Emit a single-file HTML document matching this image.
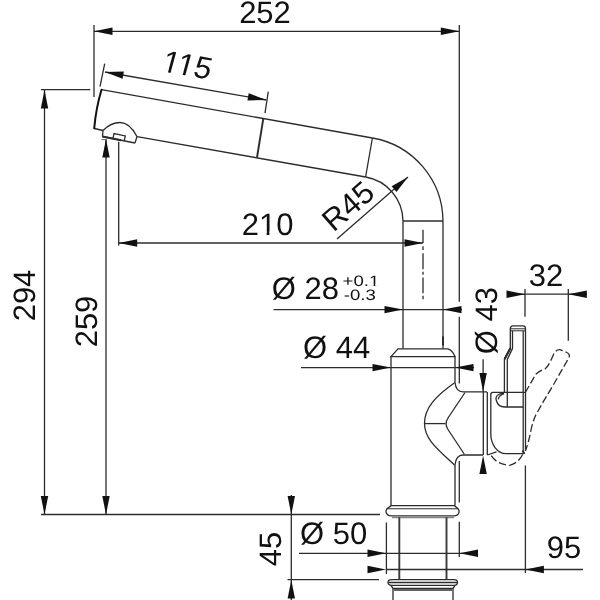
<!DOCTYPE html>
<html><head><meta charset="utf-8">
<style>
html,body{margin:0;padding:0;background:#fff;}
svg{display:block;filter:blur(0.35px)}
text{font-family:"Liberation Sans",sans-serif;fill:#111;text-rendering:geometricPrecision;}
.l{stroke:#2c2c2c;stroke-width:1.3;fill:none;}
.t{stroke:#111;stroke-width:2;fill:none;stroke-linecap:round}
.a{fill:#111;stroke:none}
.d{stroke:#2c2c2c;stroke-width:1.3;fill:none;stroke-dasharray:7.5 3;}
</style></head><body>
<svg width="600" height="600" viewBox="0 0 600 600">
<rect width="600" height="600" fill="#fff"/>

<!-- 252 -->
<g class="l">
<path d="M94 25 V97"/>
<path d="M459.3 25 V301.7 M459.3 316.7 V383.5"/>
<path d="M94 31.3 H459.3"/>
</g>
<path class="a" d="M0 0 L-18.5 -3.7 L-18.5 3.7 Z" transform="translate(94 31.3) rotate(180)"/>
<path class="a" d="M0 0 L-18.5 -3.7 L-18.5 3.7 Z" transform="translate(459.3 31.3)"/>
<text x="265" y="22.5" font-size="31" text-anchor="middle">252</text>

<!-- 115 -->
<g class="l">
<path d="M104.7 63.7 L100 86.7"/>
<path d="M268.3 91.7 L265 113"/>
<path d="M105 72 L266.3 100"/>
</g>
<path class="a" d="M0 0 L-18.5 -3.7 L-18.5 3.7 Z" transform="translate(105 72) rotate(189.85)"/>
<path class="a" d="M0 0 L-18.5 -3.7 L-18.5 3.7 Z" transform="translate(266.3 100) rotate(9.85)"/>
<g transform="translate(184.6 75.3) rotate(10) skewX(-5)"><text x="-24.70" y="0" font-size="31">115</text><rect x="-24.30" y="-3.00" width="7.40" height="3.90" fill="#fff"/><rect x="-14.20" y="-3.00" width="7.35" height="3.90" fill="#fff"/><rect x="-9.37" y="-3.00" width="7.40" height="3.90" fill="#fff"/><rect x="0.73" y="-3.00" width="7.35" height="3.90" fill="#fff"/></g>

<!-- 294 -->
<g class="l">
<path d="M41 89.7 H90.3"/>
<path d="M44.5 90 V514.5"/>
<path d="M41 514.5 H380"/>
<path d="M106 139 V514.5"/>
</g>
<path class="a" d="M0 0 L-18.5 -3.7 L-18.5 3.7 Z" transform="translate(44.5 90) rotate(-90)"/>
<path class="a" d="M0 0 L-18.5 -3.7 L-18.5 3.7 Z" transform="translate(44.5 514.5) rotate(90)"/>
<path class="a" d="M0 0 L-18.5 -3.7 L-18.5 3.7 Z" transform="translate(106 139) rotate(-90)"/>
<path class="a" d="M0 0 L-18.5 -3.7 L-18.5 3.7 Z" transform="translate(106 514.5) rotate(90)"/>
<text font-size="31" text-anchor="middle" transform="translate(35 295.5) rotate(-90)">294</text>
<text font-size="31" text-anchor="middle" transform="translate(96.6 321.5) rotate(-90)">259</text>

<!-- 210 -->
<g class="l">
<path d="M118.7 141.7 V245.5"/>
<path d="M118.7 243 H423"/>
<path d="M423 229.7 V243"/>
<path d="M423 246.3 V250 M423 253.3 V269.2 M423 271.7 V274.7 M423 277.5 V293.3 M423 295.8 V299.2"/>
</g>
<path class="a" d="M0 0 L-18.5 -3.7 L-18.5 3.7 Z" transform="translate(118.7 243) rotate(180)"/>
<path class="a" d="M0 0 L-18.5 -3.7 L-18.5 3.7 Z" transform="translate(423 243)"/>
<g transform="translate(267.5 234.5)"><text x="-25.85" y="0" font-size="31">210</text><rect x="-8.22" y="-3.00" width="7.40" height="3.90" fill="#fff"/><rect x="1.88" y="-3.00" width="7.35" height="3.90" fill="#fff"/></g>

<!-- spout -->
<g class="l">
<path d="M101.5 89.7 L372.4 138"/>
<path d="M94.4 128.5 L103 130.5"/>
<path d="M137 136.7 L365.6 177"/>
<path d="M263.3 118.7 L257 157.5" stroke-width="1.9"/>
<path d="M372.4 138 L365.6 177"/>
<path d="M372.4 138 A85 85 0 0 1 443 221"/>
<path d="M365.6 177 A45 45 0 0 1 403 221"/>
<path d="M403 221 H443"/>
<path d="M403 221 V348.8 M443 221 V348.8"/>
<!-- aerator -->
<path d="M102.5 136.5 L103 130.5 C107 126.5 113 122.5 120 122.5 C127 122.5 133 129 137 136.5 L135 143"/><path d="M102.3 136.5 L135 143"/><path d="M102.3 136.5 L121 140.2" stroke-width="2.1"/><path d="M101.5 139.6 H106.5" stroke-width="1" stroke="#666"/>
<path d="M113 138.6 L114 133.6 L125.3 135.9 L124.2 140.6"/>
</g>
<path class="t" d="M101.5 89.7 Q96 108 94.2 128.3"/>

<!-- R45 -->
<path class="l" d="M408 177 L337 239"/>
<path class="a" d="M0 0 L-18.5 -3.7 L-18.5 3.7 Z" transform="translate(408 177) rotate(-41.1)"/>
<text font-size="31" text-anchor="middle" transform="translate(355 214) rotate(-41.1)">R45</text>

<!-- O28 -->
<g class="l">
<path d="M273.6 309.6 H462"/>
<path d="M443 336.5 V345.5" stroke-width="2"/>
</g>
<path class="a" d="M0 0 L-18.5 -3.7 L-18.5 3.7 Z" transform="translate(403 309.6)"/>
<path class="a" d="M0 0 L-18.5 -3.7 L-18.5 3.7 Z" transform="translate(443 309.6) rotate(180)"/>
<text x="271.8" y="299" font-size="31">Ø 28</text>
<g transform="translate(342.6 285.5) scale(1.24 1)"><text x="0" y="0" font-size="15">+0.1</text><rect x="21.46" y="-1.45" width="3.51" height="1.89" fill="#fff"/><rect x="26.42" y="-1.45" width="3.48" height="1.89" fill="#fff"/></g>
<text transform="translate(343.8 300.4) scale(1.24 1)" font-size="15">-0.3</text>

<!-- O44 -->
<g class="l">
<path d="M301 367.6 H474"/>
</g>
<path class="a" d="M0 0 L-18.5 -3.7 L-18.5 3.7 Z" transform="translate(391 367.6)"/>
<path class="a" d="M0 0 L-18.5 -3.7 L-18.5 3.7 Z" transform="translate(455 367.6) rotate(180)"/>
<text x="303" y="358" font-size="31">Ø 44</text>

<!-- body -->
<g class="l">
<path d="M391 356.6 L398 348.8 H448 Q452.5 350 455 356.6 Z"/>
<path d="M391 356.6 V505.7"/>
<path d="M455 356.6 V382.5"/>
<path d="M455 382.5 Q456 391.9 463 391.9 H487"/>
<path d="M455 382.5 C435.3 396.2 424.5 408 424.5 423.5 C424.5 439 437 448.6 454.5 465"/>
<path d="M465 392.5 L448.3 417.5 Q444 423.7 448.3 430 L464.2 454"/>
<path d="M424.5 423.6 H445.5"/>
<path d="M483 455 H463 Q456 455 455 465 V505.6"/>
<path d="M483.3 392 V455 M487.3 392 V455"/>
<!-- cap -->
<path d="M525 392.3 H492.8 Q490.8 392.3 490.8 394.5 V434 C490.8 444 497 453.6 506 453.6 H523.5"/><path d="M487.3 455 L496.5 451.8"/><path d="M523 451.5 L524 453" stroke-width="2.2" stroke-linecap="round"/>
<!-- lever -->
<path d="M510.3 329 Q510.3 325.9 513 325.9 H523 Q525.5 325.9 525.5 329 V451"/>
<path d="M510.3 328.8 H525.5 M510.3 330.8 H525.5" stroke-width="1"/>
<path d="M510.3 329 V347.5 L504.4 359.5 V393"/>
<path d="M512.5 331 V348.5 L507.3 359.5 V407"/>
<path d="M523.2 331 V452"/>
<path d="M510.2 348.8 L504.9 358.6" stroke-width="2.2" stroke-linecap="round"/>
<path d="M504 393.4 C497.5 393.4 495.3 396.5 496.2 400 C497.2 404 500.5 407 504.7 407 H523.2"/><path d="M504 393.6 Q499 395.2 498.2 399.3"/>
<!-- base ring -->
<path d="M391 505.7 H454.5 L458.3 509 Q459.8 511.5 458.5 513.6 Q457 515.9 454.5 515.9 H390.8 Q388 515.9 386.6 513.6 Q385.3 511.5 386.8 509 Z"/>
<path d="M387.5 508.8 H457.8" stroke-width="1.1"/>
<path d="M392 517.7 H454" stroke-width="0.9" stroke="#555"/>
<path d="M399.3 517.3 V580 M446.5 517.3 V580" stroke-width="1.9" stroke="#3a3a3a"/>
<path d="M392 579.7 H454 Q457.5 579.7 457.5 582.5 Q457.5 585.3 454 585.3 H392 Q388 585.3 388 582.5 Q388 579.7 392 579.7 Z"/>
<path d="M388.5 582.5 H457"/>
<path d="M391 585.5 L393 588.3 H453 L455 585.5"/>
<path d="M393 588.3 V600 M453 588.3 V600"/>
<path d="M394 590 H452"/>
</g>

<!-- dashed lever -->
<path class="d" d="M525.3 392.5 L535.8 374.2 Q540 370.5 545 369 Q548.5 366.5 553.3 355 Q555.8 349 560.5 349.8 L566 352 Q570.6 354 569 357.5 L563.3 367.5 L553.3 385 L543.3 401.7 L535.8 415 Q532.5 422 530.8 431 Q528.5 443 525.5 450.5"/>
<path class="d" d="M491.2 455.7 Q497 464.5 509.5 465.3 Q519.5 463 524 451.5"/>

<!-- O43 -->
<g class="l">
<path d="M483.1 359.3 V392"/>
</g>
<path class="a" d="M0 0 L-18.5 -3.7 L-18.5 3.7 Z" transform="translate(483.1 391.5) rotate(90)"/>
<path class="a" d="M0 0 L-18.5 -3.7 L-18.5 3.7 Z" transform="translate(483.1 455.5) rotate(-90)"/>
<text font-size="31" transform="translate(496.6 354.2) rotate(-90)">Ø 43</text>

<!-- 32 -->
<g class="l">
<path d="M507 294.2 H587"/>
<path d="M525 289 V316.7 M568.3 289 V340.8"/>
</g>
<path class="a" d="M0 0 L-18.5 -3.7 L-18.5 3.7 Z" transform="translate(525 294.2)"/>
<path class="a" d="M0 0 L-18.5 -3.7 L-18.5 3.7 Z" transform="translate(568.3 294.2) rotate(180)"/>
<text x="546" y="286" font-size="31" text-anchor="middle">32</text>

<!-- O50 -->
<g class="l">
<path d="M299 553.3 H478"/>
<path d="M386.4 522.5 V574 M459.3 461 V502.5 M459.3 521.7 V557"/>
</g>
<path class="a" d="M0 0 L-18.5 -3.7 L-18.5 3.7 Z" transform="translate(386 553.3)"/>
<path class="a" d="M0 0 L-18.5 -3.7 L-18.5 3.7 Z" transform="translate(459.5 553.3) rotate(180)"/>
<text x="300" y="543.7" font-size="31">Ø 50</text>

<!-- 95 -->
<g class="l">
<path d="M386 569.5 H583"/>
<path d="M525.4 465.4 V573"/>
</g>
<path class="a" d="M0 0 L-18.5 -3.7 L-18.5 3.7 Z" transform="translate(386 569.5)"/>
<path class="a" d="M0 0 L-18.5 -3.7 L-18.5 3.7 Z" transform="translate(525.4 569.5) rotate(180)"/>
<text x="564" y="557.6" font-size="31" text-anchor="middle">95</text>

<!-- 45 -->
<g class="l">
<path d="M291.3 495 V600"/>
<path d="M287.5 579.7 H379"/>
</g>
<path class="a" d="M0 0 L-18.5 -3.7 L-18.5 3.7 Z" transform="translate(291.3 514.5) rotate(90)"/>
<path class="a" d="M0 0 L-18.5 -3.7 L-18.5 3.7 Z" transform="translate(291.3 580) rotate(-90)"/>
<text font-size="31" text-anchor="middle" transform="translate(281 549) rotate(-90)">45</text>

</svg>
</body></html>
